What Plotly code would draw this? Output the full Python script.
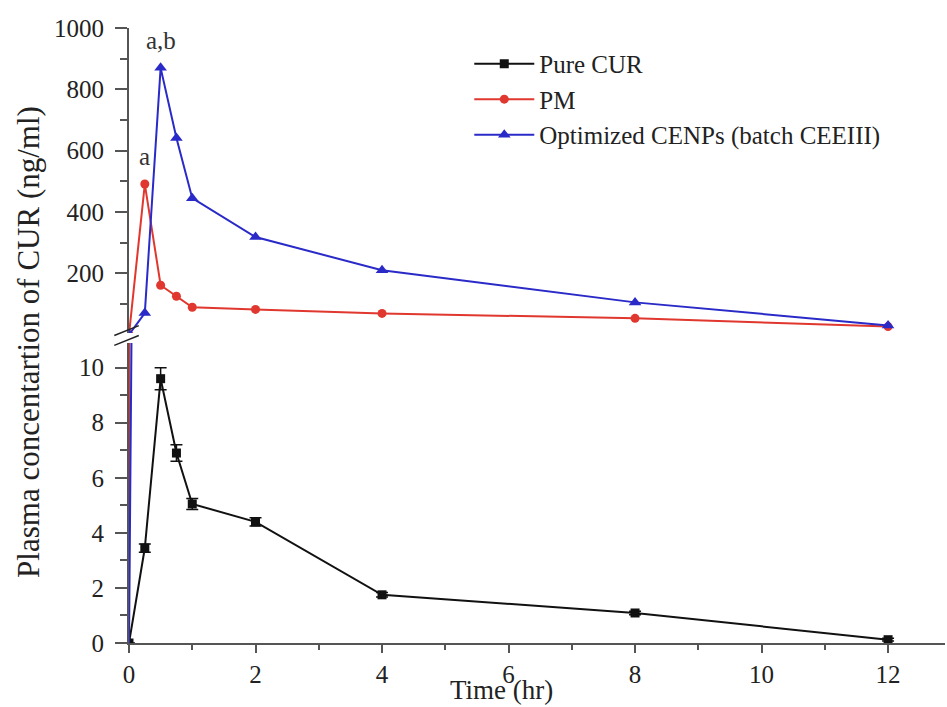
import plotly.graph_objects as go

time_hr = [0, 0.25, 0.5, 0.75, 1, 2, 4, 8, 12]
pure_cur = [0, 3.45, 9.6, 6.9, 5.05, 4.4, 1.75, 1.09, 0.12]
pure_cur_err = [0, 0.15, 0.4, 0.3, 0.2, 0.15, 0.08, 0.06, 0.05]
pm = [0, 491, 161, 125, 89, 82, 69, 53, 26]
cenps = [0, 70, 870, 641, 445, 318, 210, 105, 30]
names = ["Pure CUR", "PM", "Optimized CENPs (batch CEEIII)"]
x_ticks = [0, 2, 4, 6, 8, 10, 12]
low_ticks = [0, 2, 4, 6, 8, 10]
high_ticks = [200, 400, 600, 800, 1000]

FONT = "Liberation Serif"
BLACK = "#111111"
RED = "#e0372e"
BLUE = "#2a2ac8"
AX = "#555555"

fig = go.Figure()

fig.add_trace(go.Scatter(
    x=time_hr, y=pure_cur, name=names[0], mode="lines+markers",
    line=dict(color=BLACK, width=2),
    marker=dict(symbol="square", size=9, color=BLACK),
    error_y=dict(type="data", array=pure_cur_err, color=BLACK, thickness=1.5, width=6),
    xaxis="x", yaxis="y"))
fig.add_trace(go.Scatter(
    x=time_hr, y=pm, name=names[1], mode="lines+markers",
    line=dict(color=RED, width=2),
    marker=dict(symbol="circle", size=9, color=RED),
    xaxis="x", yaxis="y2"))
fig.add_trace(go.Scatter(
    x=time_hr, y=cenps, name=names[2], mode="lines+markers",
    line=dict(color=BLUE, width=2),
    marker=dict(symbol="triangle-up", size=11, color=BLUE),
    xaxis="x", yaxis="y2"))
# rising segments drawn in the lower (broken) panel
fig.add_trace(go.Scatter(x=time_hr[:2], y=pm[:2], mode="lines", showlegend=False,
                         line=dict(color=RED, width=2), xaxis="x", yaxis="y"))
fig.add_trace(go.Scatter(x=time_hr[:3], y=cenps[:3], mode="lines", showlegend=False,
                         line=dict(color=BLUE, width=2), xaxis="x", yaxis="y"))

fig.add_annotation(x=time_hr[1], y=pm[1], yref="y2", text="a", showarrow=False,
                   yshift=28, font=dict(family=FONT, size=25, color="#333"))
fig.add_annotation(x=time_hr[2], y=cenps[2], yref="y2", text="a,b", showarrow=False,
                   yshift=27, font=dict(family=FONT, size=25, color="#333"))

fig.add_annotation(text="Plasma concentartion of CUR (ng/ml)", textangle=-90,
                   xref="paper", yref="paper", x=-0.123, y=0.489, xanchor="center",
                   yanchor="middle", showarrow=False,
                   font=dict(family=FONT, size=31, color="#222"))
fig.add_annotation(text="Time (hr)", xref="paper", yref="paper", x=0.457, y=-0.1035,
                   xanchor="center", yanchor="bottom", showarrow=False,
                   font=dict(family=FONT, size=27, color="#222"))

# axis break marks
for yy in (0.492, 0.508):
    fig.add_shape(type="line", xref="paper", yref="paper",
                  x0=-0.018, x1=0.012, y0=yy - 0.008, y1=yy + 0.008,
                  line=dict(color="#222", width=1.5))

tickfont = dict(family=FONT, size=25, color="#222")
fig.update_layout(
    width=947, height=707,
    margin=dict(l=129, r=2, t=28, b=64),
    paper_bgcolor="white", plot_bgcolor="white",
    font=dict(family=FONT, color="#222"),
    showlegend=True,
    legend=dict(x=0.417, y=0.979, xanchor="left", yanchor="top",
                bgcolor="rgba(0,0,0,0)", font=dict(family=FONT, size=25, color="#222"),
                tracegroupgap=0, itemwidth=60),
    xaxis=dict(range=[0, 12.9], tickvals=x_ticks, ticks="outside", ticklen=8, tickwidth=1.5,
               tickcolor=AX, showline=True, linecolor=AX, linewidth=2, showgrid=False,
               zeroline=False, tickfont=tickfont, anchor="y", ticklabelstandoff=0,
               minor=dict(dtick=1, tick0=0, ticks="outside", ticklen=5, tickcolor=AX)),
    yaxis=dict(domain=[0, 0.488], range=[0, 10.9], tickvals=low_ticks, ticks="outside",
               ticklen=12, tickwidth=1.5, tickcolor=AX, showline=True, linecolor=AX,
               linewidth=2, showgrid=False, zeroline=False, tickfont=tickfont, anchor="x",
               ticklabelstandoff=6,
               minor=dict(dtick=1, tick0=0, ticks="outside", ticklen=7, tickcolor=AX)),
    yaxis2=dict(domain=[0.504, 1], range=[5, 1000], tickvals=high_ticks, ticks="outside",
                ticklen=12, tickwidth=1.5, tickcolor=AX, showline=True, linecolor=AX,
                linewidth=2, showgrid=False, zeroline=False, tickfont=tickfont, anchor="x",
                ticklabelstandoff=6,
                minor=dict(dtick=100, tick0=0, ticks="outside", ticklen=7, tickcolor=AX)),
)

fig.write_html("out.html")
